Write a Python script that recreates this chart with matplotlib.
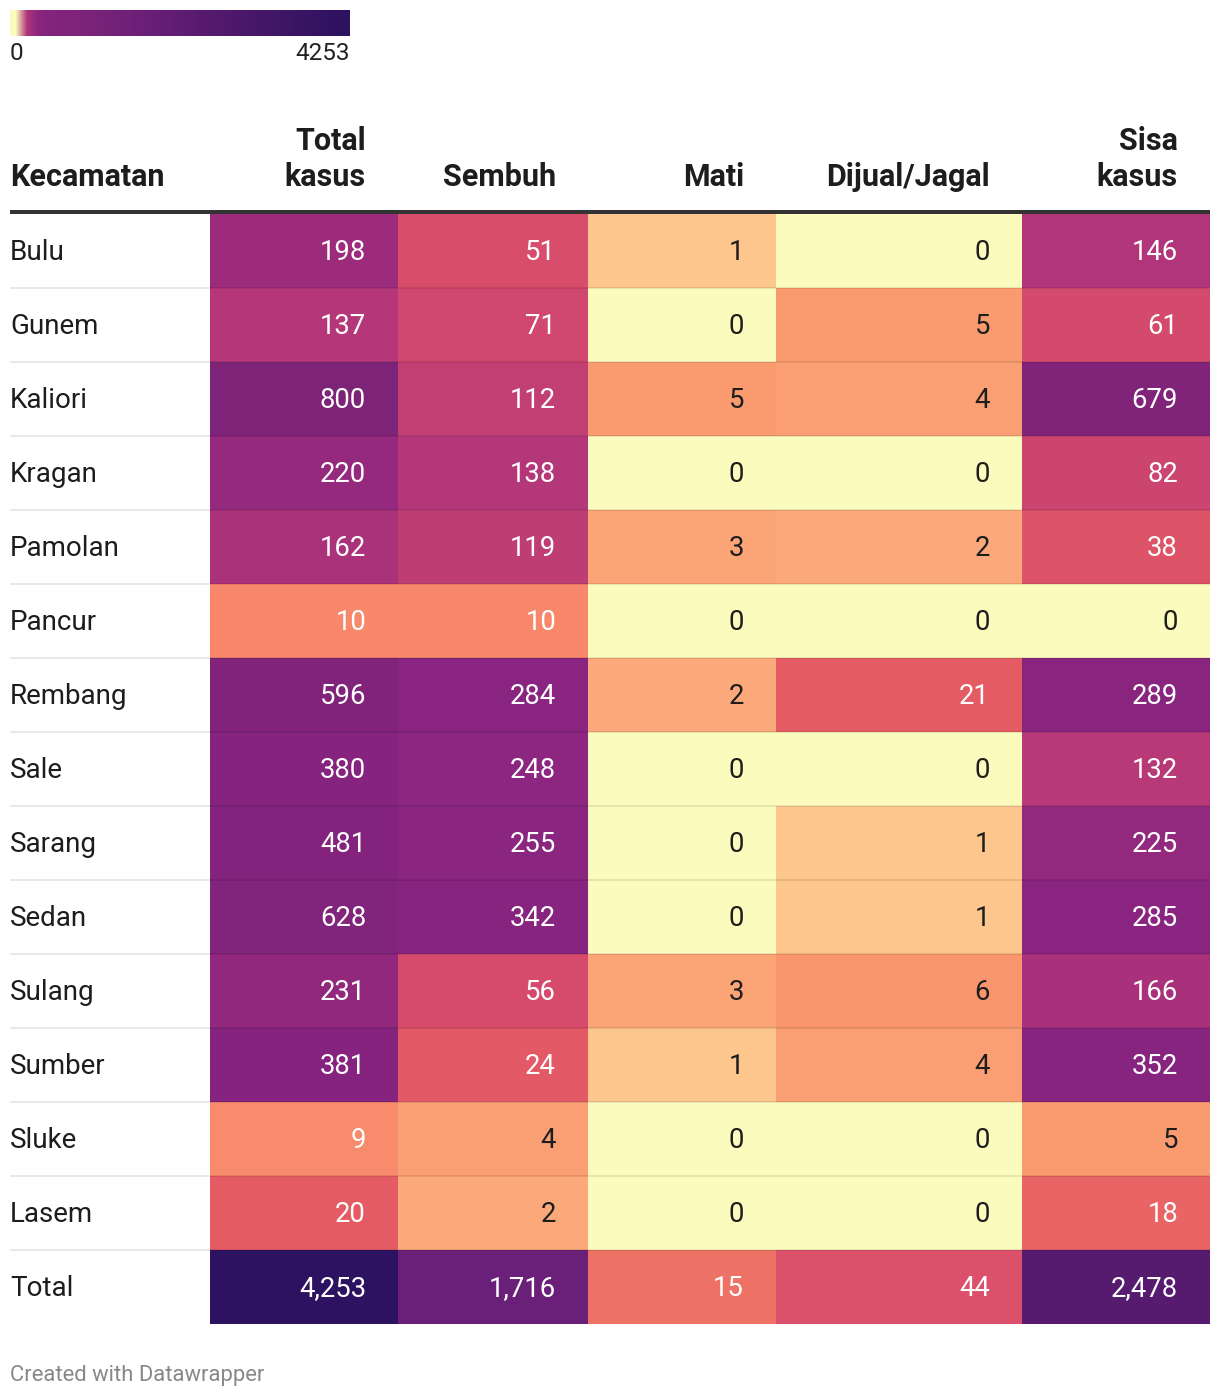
import numpy as np
import matplotlib
matplotlib.use("Agg")
import matplotlib.pyplot as plt
from matplotlib.colors import ListedColormap, Normalize, to_rgb

# ---------------- data ----------------
districts = ["Bulu", "Gunem", "Kaliori", "Kragan", "Pamolan", "Pancur", "Rembang",
             "Sale", "Sarang", "Sedan", "Sulang", "Sumber", "Sluke", "Lasem", "Total"]
headers = ["Total\nkasus", "Sembuh", "Mati", "Dijual/Jagal", "Sisa\nkasus"]
total_kasus = [198, 137, 800, 220, 162, 10, 596, 380, 481, 628, 231, 381, 9, 20, 4253]
sembuh = [51, 71, 112, 138, 119, 10, 284, 248, 255, 342, 56, 24, 4, 2, 1716]
mati = [1, 0, 5, 0, 3, 0, 2, 0, 0, 0, 3, 1, 0, 0, 15]
dijual = [0, 5, 4, 0, 2, 0, 21, 0, 1, 1, 6, 4, 0, 0, 44]
sisa = [146, 61, 679, 82, 38, 0, 289, 132, 225, 285, 166, 352, 5, 18, 2478]
scale_min, scale_max = 0, 4253

# colour stops of the scale (value, colour)
stop_vals = [0, 1, 2, 5, 10, 15, 20, 50, 80, 115, 140, 200, 250, 400, 800, 1716, 2478, 4253]
stop_cols = ["#fbfbbd", "#fdc68c", "#fba97a", "#fa9a6f", "#f8876b", "#ee7166", "#e55b64",
             "#d84d6b", "#cd4570", "#c03e73", "#b3367a", "#9b2b7c", "#8b2680", "#84237e",
             "#7e2478", "#6a1f78", "#561a6e", "#2c1260"]

# ---------------- colormap ----------------
vals_all = np.arange(scale_min, scale_max + 1)
rgb_stops = np.array([to_rgb(c) for c in stop_cols])
lut = np.stack([np.interp(vals_all, stop_vals, rgb_stops[:, i]) for i in range(3)], axis=1)
cmap = ListedColormap(lut)
norm = Normalize(vmin=scale_min - 0.5, vmax=scale_max + 0.5)

# ---------------- figure ----------------
W, H = 1220, 1398
fig = plt.figure(figsize=(W / 100, H / 100), dpi=100)
ax = fig.add_axes([0, 0, 1, 1])
ax.set_xlim(0, W)
ax.set_ylim(H, 0)
ax.axis("off")

FONT = "Roboto"
px = 0.72  # points per pixel

# legend bar
grad = np.linspace(scale_min, scale_max, 30)[None, :]
ax.imshow(grad, cmap=cmap, norm=norm, extent=[10, 350, 36, 10], aspect="auto",
          interpolation="bilinear", interpolation_stage="rgba")
ax.text(10, 53, str(scale_min), ha="left", va="center", fontsize=17.5,
        family=FONT, color="#222222")
ax.text(350, 53, str(scale_max), ha="right", va="center", fontsize=17.5,
        family=FONT, color="#222222")

# table geometry
col_edges = np.array([210, 398, 588, 776, 1022, 1210])
row_top = 214
row_h = 74
n_rows = len(districts)
row_edges = row_top + row_h * np.arange(n_rows + 1)

data = np.array([total_kasus, sembuh, mati, dijual, sisa]).T  # rows x cols
ax.pcolormesh(col_edges, row_edges, data, cmap=cmap, norm=norm,
              edgecolors="none", antialiased=False, shading="flat")

# headers
HFS = 22
ax.text(10, 186, "Kecamatan", ha="left", va="baseline", fontsize=HFS,
        fontweight="bold", family=FONT, color="#1d1d1d")
for j, h in enumerate(headers):
    xr = col_edges[j + 1] - 32
    lines = h.split("\n")
    for k, line in enumerate(reversed(lines)):
        ax.text(xr, 186 - 36 * k, line, ha="right", va="baseline", fontsize=HFS,
                fontweight="bold", family=FONT, color="#1d1d1d")

# header rule
ax.plot([10, 1210], [212, 212], color="#333333", lw=4 * px, solid_capstyle="butt")

# row separators
for y in row_edges[1:-1]:
    ax.plot([10, 1210], [y, y], color="black", alpha=0.09, lw=2 * px,
            solid_capstyle="butt")


def luminance(rgb):
    c = np.array(rgb[:3])
    c = np.where(c <= 0.03928, c / 12.92, ((c + 0.055) / 1.055) ** 2.4)
    return 0.2126 * c[0] + 0.7152 * c[1] + 0.0722 * c[2]


for i, name in enumerate(districts):
    yc = row_top + row_h * i + row_h / 2 + 1.5
    ax.text(10, yc, name, ha="left", va="center", fontsize=20, family=FONT,
            color="#1d1d1d")
    for j in range(data.shape[1]):
        v = data[i, j]
        rgb = cmap(norm(v))
        txtcol = "white" if luminance(rgb) < 0.40 else "#1d1d1d"
        ax.text(col_edges[j + 1] - 32, yc, f"{v:,}", ha="right", va="center",
                fontsize=19.8, family=FONT, color=txtcol)

# footer
ax.text(10, 1376, "Created with Datawrapper", ha="left", va="center",
        fontsize=15.8, family=FONT, color="#888888")

fig.savefig("out.png", dpi=100, facecolor="white")
